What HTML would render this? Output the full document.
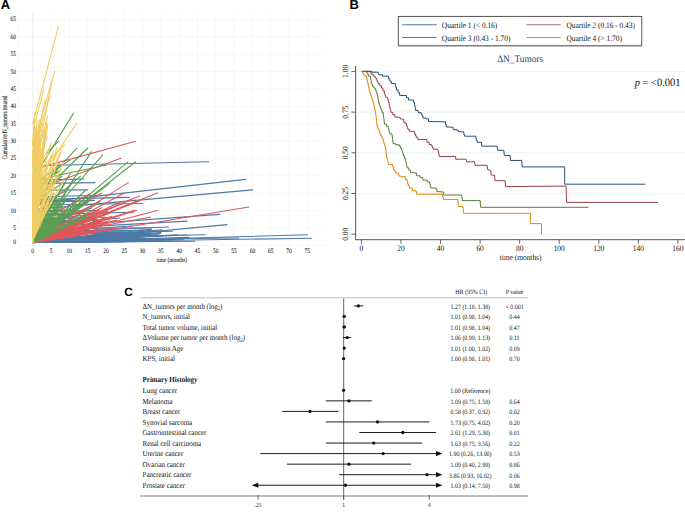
<!DOCTYPE html><html><head><meta charset="utf-8"><style>html,body{margin:0;padding:0;background:#fff;width:685px;height:520px;overflow:hidden}svg{display:block}</style></head><body>
<svg width="685" height="520" viewBox="0 0 685 520" style="font-family:'Liberation Serif',serif" text-rendering="geometricPrecision">
<rect width="685" height="520" fill="#fff"/>
<text x="0.8" y="9.2" font-size="13" font-weight="bold" style="font-family:'Liberation Sans',sans-serif" fill="#000">A</text>
<text x="349.4" y="9.2" font-size="13" font-weight="bold" style="font-family:'Liberation Sans',sans-serif" fill="#000">B</text>
<g>
<line x1="32.70" y1="12" x2="32.70" y2="245.4" stroke="#e9e9e9" stroke-width="0.7"/>
<line x1="51.01" y1="12" x2="51.01" y2="245.4" stroke="#f5f5f5" stroke-width="0.7"/>
<line x1="69.32" y1="12" x2="69.32" y2="245.4" stroke="#f5f5f5" stroke-width="0.7"/>
<line x1="87.63" y1="12" x2="87.63" y2="245.4" stroke="#f5f5f5" stroke-width="0.7"/>
<line x1="105.94" y1="12" x2="105.94" y2="245.4" stroke="#f5f5f5" stroke-width="0.7"/>
<line x1="124.25" y1="12" x2="124.25" y2="245.4" stroke="#f5f5f5" stroke-width="0.7"/>
<line x1="142.56" y1="12" x2="142.56" y2="245.4" stroke="#f5f5f5" stroke-width="0.7"/>
<line x1="160.87" y1="12" x2="160.87" y2="245.4" stroke="#f5f5f5" stroke-width="0.7"/>
<line x1="179.18" y1="12" x2="179.18" y2="245.4" stroke="#f5f5f5" stroke-width="0.7"/>
<line x1="197.49" y1="12" x2="197.49" y2="245.4" stroke="#f5f5f5" stroke-width="0.7"/>
<line x1="215.80" y1="12" x2="215.80" y2="245.4" stroke="#f5f5f5" stroke-width="0.7"/>
<line x1="234.11" y1="12" x2="234.11" y2="245.4" stroke="#f5f5f5" stroke-width="0.7"/>
<line x1="252.42" y1="12" x2="252.42" y2="245.4" stroke="#f5f5f5" stroke-width="0.7"/>
<line x1="270.73" y1="12" x2="270.73" y2="245.4" stroke="#f5f5f5" stroke-width="0.7"/>
<line x1="289.04" y1="12" x2="289.04" y2="245.4" stroke="#f5f5f5" stroke-width="0.7"/>
<line x1="307.35" y1="12" x2="307.35" y2="245.4" stroke="#f5f5f5" stroke-width="0.7"/>
<line x1="18" y1="228.00" x2="325" y2="228.00" stroke="#f5f5f5" stroke-width="0.7"/>
<line x1="18" y1="210.62" x2="325" y2="210.62" stroke="#f5f5f5" stroke-width="0.7"/>
<line x1="18" y1="193.25" x2="325" y2="193.25" stroke="#f5f5f5" stroke-width="0.7"/>
<line x1="18" y1="175.88" x2="325" y2="175.88" stroke="#f5f5f5" stroke-width="0.7"/>
<line x1="18" y1="158.50" x2="325" y2="158.50" stroke="#f5f5f5" stroke-width="0.7"/>
<line x1="18" y1="141.12" x2="325" y2="141.12" stroke="#f5f5f5" stroke-width="0.7"/>
<line x1="18" y1="123.75" x2="325" y2="123.75" stroke="#f5f5f5" stroke-width="0.7"/>
<line x1="18" y1="106.38" x2="325" y2="106.38" stroke="#f5f5f5" stroke-width="0.7"/>
<line x1="18" y1="89.00" x2="325" y2="89.00" stroke="#f5f5f5" stroke-width="0.7"/>
<line x1="18" y1="71.62" x2="325" y2="71.62" stroke="#f5f5f5" stroke-width="0.7"/>
<line x1="18" y1="54.25" x2="325" y2="54.25" stroke="#f5f5f5" stroke-width="0.7"/>
<line x1="18" y1="36.88" x2="325" y2="36.88" stroke="#f5f5f5" stroke-width="0.7"/>
<line x1="18" y1="19.50" x2="325" y2="19.50" stroke="#f5f5f5" stroke-width="0.7"/>
<line x1="18" y1="245.4" x2="325" y2="245.4" stroke="#f5f5f5" stroke-width="0.7"/>
<line x1="18.2" y1="12" x2="18.2" y2="245.4" stroke="#f5f5f5" stroke-width="0.7"/>
<text transform="translate(16,244.20) scale(1,1.22)" text-anchor="end" font-size="5.5" fill="#111" stroke="#111" stroke-width="0.05">0</text>
<text transform="translate(16,229.90) scale(1,1.22)" text-anchor="end" font-size="5.5" fill="#111" stroke="#111" stroke-width="0.05">5</text>
<text transform="translate(16,212.53) scale(1,1.22)" text-anchor="end" font-size="5.5" fill="#111" stroke="#111" stroke-width="0.05">10</text>
<text transform="translate(16,195.15) scale(1,1.22)" text-anchor="end" font-size="5.5" fill="#111" stroke="#111" stroke-width="0.05">15</text>
<text transform="translate(16,177.78) scale(1,1.22)" text-anchor="end" font-size="5.5" fill="#111" stroke="#111" stroke-width="0.05">20</text>
<text transform="translate(16,160.40) scale(1,1.22)" text-anchor="end" font-size="5.5" fill="#111" stroke="#111" stroke-width="0.05">25</text>
<text transform="translate(16,143.03) scale(1,1.22)" text-anchor="end" font-size="5.5" fill="#111" stroke="#111" stroke-width="0.05">30</text>
<text transform="translate(16,125.65) scale(1,1.22)" text-anchor="end" font-size="5.5" fill="#111" stroke="#111" stroke-width="0.05">35</text>
<text transform="translate(16,108.28) scale(1,1.22)" text-anchor="end" font-size="5.5" fill="#111" stroke="#111" stroke-width="0.05">40</text>
<text transform="translate(16,90.90) scale(1,1.22)" text-anchor="end" font-size="5.5" fill="#111" stroke="#111" stroke-width="0.05">45</text>
<text transform="translate(16,73.53) scale(1,1.22)" text-anchor="end" font-size="5.5" fill="#111" stroke="#111" stroke-width="0.05">50</text>
<text transform="translate(16,56.15) scale(1,1.22)" text-anchor="end" font-size="5.5" fill="#111" stroke="#111" stroke-width="0.05">55</text>
<text transform="translate(16,38.77) scale(1,1.22)" text-anchor="end" font-size="5.5" fill="#111" stroke="#111" stroke-width="0.05">60</text>
<text transform="translate(16,21.40) scale(1,1.22)" text-anchor="end" font-size="5.5" fill="#111" stroke="#111" stroke-width="0.05">65</text>
<text transform="translate(32.70,252.8) scale(1,1.22)" text-anchor="middle" font-size="5.5" fill="#111" stroke="#111" stroke-width="0.05">0</text>
<text transform="translate(51.01,252.8) scale(1,1.22)" text-anchor="middle" font-size="5.5" fill="#111" stroke="#111" stroke-width="0.05">5</text>
<text transform="translate(69.32,252.8) scale(1,1.22)" text-anchor="middle" font-size="5.5" fill="#111" stroke="#111" stroke-width="0.05">10</text>
<text transform="translate(87.63,252.8) scale(1,1.22)" text-anchor="middle" font-size="5.5" fill="#111" stroke="#111" stroke-width="0.05">15</text>
<text transform="translate(105.94,252.8) scale(1,1.22)" text-anchor="middle" font-size="5.5" fill="#111" stroke="#111" stroke-width="0.05">20</text>
<text transform="translate(124.25,252.8) scale(1,1.22)" text-anchor="middle" font-size="5.5" fill="#111" stroke="#111" stroke-width="0.05">25</text>
<text transform="translate(142.56,252.8) scale(1,1.22)" text-anchor="middle" font-size="5.5" fill="#111" stroke="#111" stroke-width="0.05">30</text>
<text transform="translate(160.87,252.8) scale(1,1.22)" text-anchor="middle" font-size="5.5" fill="#111" stroke="#111" stroke-width="0.05">35</text>
<text transform="translate(179.18,252.8) scale(1,1.22)" text-anchor="middle" font-size="5.5" fill="#111" stroke="#111" stroke-width="0.05">40</text>
<text transform="translate(197.49,252.8) scale(1,1.22)" text-anchor="middle" font-size="5.5" fill="#111" stroke="#111" stroke-width="0.05">45</text>
<text transform="translate(215.80,252.8) scale(1,1.22)" text-anchor="middle" font-size="5.5" fill="#111" stroke="#111" stroke-width="0.05">50</text>
<text transform="translate(234.11,252.8) scale(1,1.22)" text-anchor="middle" font-size="5.5" fill="#111" stroke="#111" stroke-width="0.05">55</text>
<text transform="translate(252.42,252.8) scale(1,1.22)" text-anchor="middle" font-size="5.5" fill="#111" stroke="#111" stroke-width="0.05">60</text>
<text transform="translate(270.73,252.8) scale(1,1.22)" text-anchor="middle" font-size="5.5" fill="#111" stroke="#111" stroke-width="0.05">65</text>
<text transform="translate(289.04,252.8) scale(1,1.22)" text-anchor="middle" font-size="5.5" fill="#111" stroke="#111" stroke-width="0.05">70</text>
<text transform="translate(307.35,252.8) scale(1,1.22)" text-anchor="middle" font-size="5.5" fill="#111" stroke="#111" stroke-width="0.05">75</text>
<text transform="translate(171.8,262.2) scale(1,1.22)" text-anchor="middle" font-size="5.45" fill="#111" stroke="#111" stroke-width="0.05">time (months)</text>
<text transform="translate(6.5,127.5) rotate(-90) scale(1,1.32)" text-anchor="middle" font-size="5.38" fill="#111" stroke="#111" stroke-width="0.08">Cumulative N_tumors treated</text>
</g>
<g fill="none" stroke-width="1.1" stroke-linecap="round">
<line x1="32.7" y1="242.5" x2="123.2" y2="241.3" stroke="#4E79A7"/>
<line x1="32.7" y1="242.5" x2="146.5" y2="239.6" stroke="#4E79A7"/>
<line x1="32.7" y1="242.5" x2="91.7" y2="240.8" stroke="#4E79A7"/>
<line x1="32.7" y1="242.5" x2="134.3" y2="237.3" stroke="#4E79A7"/>
<line x1="32.7" y1="242.5" x2="156.6" y2="235.3" stroke="#4E79A7"/>
<line x1="32.7" y1="242.5" x2="194.9" y2="241.2" stroke="#4E79A7"/>
<line x1="32.7" y1="242.5" x2="103.5" y2="241.7" stroke="#4E79A7"/>
<line x1="32.7" y1="242.5" x2="107.5" y2="239.7" stroke="#4E79A7"/>
<line x1="32.7" y1="242.5" x2="147.8" y2="241.5" stroke="#4E79A7"/>
<line x1="32.7" y1="242.5" x2="162.4" y2="238.7" stroke="#4E79A7"/>
<line x1="32.7" y1="242.5" x2="137.4" y2="240.2" stroke="#4E79A7"/>
<line x1="32.7" y1="242.5" x2="114.4" y2="239.4" stroke="#4E79A7"/>
<line x1="32.7" y1="242.5" x2="167.8" y2="239.6" stroke="#4E79A7"/>
<line x1="32.7" y1="242.5" x2="133.6" y2="237.7" stroke="#4E79A7"/>
<line x1="32.7" y1="242.5" x2="91.9" y2="240.0" stroke="#4E79A7"/>
<line x1="32.7" y1="242.5" x2="183.8" y2="239.1" stroke="#4E79A7"/>
<line x1="32.7" y1="242.5" x2="151.3" y2="238.9" stroke="#4E79A7"/>
<line x1="32.7" y1="242.5" x2="139.7" y2="238.0" stroke="#4E79A7"/>
<line x1="32.7" y1="242.5" x2="158.7" y2="234.8" stroke="#4E79A7"/>
<line x1="32.7" y1="242.5" x2="130.0" y2="238.4" stroke="#4E79A7"/>
<line x1="32.7" y1="242.5" x2="106.1" y2="241.6" stroke="#4E79A7"/>
<line x1="32.7" y1="242.5" x2="101.8" y2="241.2" stroke="#4E79A7"/>
<line x1="32.7" y1="242.5" x2="96.5" y2="240.6" stroke="#4E79A7"/>
<line x1="32.7" y1="242.5" x2="177.6" y2="234.7" stroke="#4E79A7"/>
<line x1="32.7" y1="242.5" x2="127.0" y2="237.3" stroke="#4E79A7"/>
<line x1="32.7" y1="242.5" x2="107.0" y2="241.1" stroke="#4E79A7"/>
<line x1="32.7" y1="242.5" x2="152.4" y2="240.1" stroke="#4E79A7"/>
<line x1="32.7" y1="242.5" x2="128.2" y2="239.0" stroke="#4E79A7"/>
<line x1="32.7" y1="242.5" x2="144.3" y2="238.1" stroke="#4E79A7"/>
<line x1="32.7" y1="242.5" x2="186.5" y2="235.0" stroke="#4E79A7"/>
<line x1="32.7" y1="242.5" x2="130.7" y2="239.8" stroke="#4E79A7"/>
<line x1="32.7" y1="242.5" x2="94.5" y2="241.9" stroke="#4E79A7"/>
<line x1="32.7" y1="242.5" x2="125.0" y2="241.7" stroke="#4E79A7"/>
<line x1="32.7" y1="242.5" x2="98.8" y2="240.8" stroke="#4E79A7"/>
<line x1="32.7" y1="242.5" x2="155.1" y2="240.8" stroke="#4E79A7"/>
<line x1="32.7" y1="242.5" x2="108.6" y2="239.0" stroke="#4E79A7"/>
<line x1="32.7" y1="242.5" x2="117.6" y2="235.6" stroke="#4E79A7"/>
<line x1="32.7" y1="242.5" x2="106.8" y2="238.0" stroke="#4E79A7"/>
<line x1="32.7" y1="242.5" x2="78.7" y2="236.7" stroke="#4E79A7"/>
<line x1="32.7" y1="242.5" x2="124.4" y2="239.1" stroke="#4E79A7"/>
<line x1="32.7" y1="242.5" x2="152.5" y2="230.3" stroke="#4E79A7"/>
<line x1="32.7" y1="242.5" x2="91.3" y2="236.1" stroke="#4E79A7"/>
<line x1="32.7" y1="242.5" x2="105.6" y2="238.4" stroke="#4E79A7"/>
<line x1="32.7" y1="242.5" x2="151.6" y2="229.1" stroke="#4E79A7"/>
<line x1="32.7" y1="242.5" x2="96.6" y2="237.1" stroke="#4E79A7"/>
<line x1="32.7" y1="242.5" x2="79.1" y2="239.6" stroke="#4E79A7"/>
<line x1="32.7" y1="242.5" x2="160.7" y2="232.5" stroke="#4E79A7"/>
<line x1="32.7" y1="242.5" x2="160.6" y2="233.5" stroke="#4E79A7"/>
<line x1="32.7" y1="242.5" x2="93.9" y2="239.2" stroke="#4E79A7"/>
<line x1="32.7" y1="242.5" x2="150.5" y2="232.9" stroke="#4E79A7"/>
<line x1="32.7" y1="242.5" x2="84.1" y2="237.4" stroke="#4E79A7"/>
<line x1="32.7" y1="242.5" x2="142.6" y2="233.6" stroke="#4E79A7"/>
<line x1="32.7" y1="242.5" x2="105.9" y2="234.3" stroke="#4E79A7"/>
<line x1="32.7" y1="242.5" x2="111.9" y2="232.5" stroke="#4E79A7"/>
<line x1="32.7" y1="242.5" x2="87.8" y2="239.8" stroke="#4E79A7"/>
<line x1="32.7" y1="242.5" x2="89.5" y2="236.0" stroke="#4E79A7"/>
<line x1="32.7" y1="242.5" x2="107.4" y2="235.9" stroke="#4E79A7"/>
<line x1="32.7" y1="242.5" x2="162.0" y2="229.9" stroke="#4E79A7"/>
<line x1="32.7" y1="242.5" x2="114.8" y2="232.7" stroke="#4E79A7"/>
<line x1="32.7" y1="242.5" x2="98.8" y2="238.3" stroke="#4E79A7"/>
<line x1="32.7" y1="242.5" x2="99.4" y2="237.5" stroke="#4E79A7"/>
<line x1="32.7" y1="242.5" x2="107.7" y2="236.6" stroke="#4E79A7"/>
<line x1="32.7" y1="242.5" x2="113.6" y2="232.5" stroke="#4E79A7"/>
<line x1="32.7" y1="242.5" x2="122.7" y2="239.2" stroke="#4E79A7"/>
<line x1="32.7" y1="242.5" x2="77.0" y2="237.5" stroke="#4E79A7"/>
<line x1="32.7" y1="242.5" x2="140.4" y2="233.0" stroke="#4E79A7"/>
<line x1="32.7" y1="242.5" x2="125.5" y2="232.2" stroke="#4E79A7"/>
<line x1="32.7" y1="242.5" x2="98.5" y2="238.4" stroke="#4E79A7"/>
<line x1="32.7" y1="242.5" x2="126.0" y2="232.4" stroke="#4E79A7"/>
<line x1="32.7" y1="235.0" x2="143.7" y2="232.6" stroke="#4E79A7"/>
<line x1="32.7" y1="232.9" x2="129.0" y2="230.6" stroke="#4E79A7"/>
<line x1="32.7" y1="238.8" x2="151.6" y2="234.2" stroke="#4E79A7"/>
<line x1="32.7" y1="239.9" x2="138.9" y2="235.5" stroke="#4E79A7"/>
<line x1="32.7" y1="239.0" x2="98.8" y2="237.7" stroke="#4E79A7"/>
<line x1="32.7" y1="233.2" x2="94.3" y2="231.4" stroke="#4E79A7"/>
<line x1="32.7" y1="239.8" x2="101.8" y2="237.6" stroke="#4E79A7"/>
<line x1="32.7" y1="232.8" x2="168.5" y2="227.0" stroke="#4E79A7"/>
<line x1="32.7" y1="233.8" x2="124.1" y2="231.9" stroke="#4E79A7"/>
<line x1="32.7" y1="238.1" x2="102.4" y2="236.8" stroke="#4E79A7"/>
<line x1="32.7" y1="240.9" x2="105.6" y2="239.9" stroke="#4E79A7"/>
<line x1="32.7" y1="238.2" x2="138.4" y2="236.1" stroke="#4E79A7"/>
<line x1="32.7" y1="232.5" x2="144.8" y2="230.0" stroke="#4E79A7"/>
<line x1="32.7" y1="238.7" x2="159.8" y2="233.3" stroke="#4E79A7"/>
<line x1="32.7" y1="242.5" x2="146.9" y2="239.2" stroke="#4E79A7"/>
<line x1="32.7" y1="242.5" x2="188.9" y2="237.4" stroke="#4E79A7"/>
<line x1="32.7" y1="242.5" x2="159.0" y2="238.4" stroke="#4E79A7"/>
<line x1="32.7" y1="242.5" x2="152.4" y2="241.3" stroke="#4E79A7"/>
<line x1="32.7" y1="242.5" x2="150.5" y2="238.6" stroke="#4E79A7"/>
<line x1="32.7" y1="242.5" x2="151.8" y2="238.8" stroke="#4E79A7"/>
<line x1="32.7" y1="180.0" x2="84.2" y2="179.0" stroke="#4E79A7"/>
<line x1="32.7" y1="218.2" x2="70.6" y2="218.0" stroke="#4E79A7"/>
<line x1="32.7" y1="220.3" x2="59.0" y2="220.0" stroke="#4E79A7"/>
<line x1="32.7" y1="215.4" x2="73.9" y2="214.7" stroke="#4E79A7"/>
<line x1="32.7" y1="230.1" x2="87.6" y2="229.5" stroke="#4E79A7"/>
<line x1="32.7" y1="200.8" x2="69.4" y2="200.8" stroke="#4E79A7"/>
<line x1="32.7" y1="225.6" x2="64.9" y2="224.8" stroke="#4E79A7"/>
<line x1="32.7" y1="199.6" x2="129.3" y2="197.4" stroke="#4E79A7"/>
<line x1="32.7" y1="197.0" x2="98.1" y2="195.3" stroke="#4E79A7"/>
<line x1="32.7" y1="203.0" x2="94.4" y2="200.4" stroke="#4E79A7"/>
<line x1="32.7" y1="211.8" x2="99.0" y2="210.6" stroke="#4E79A7"/>
<line x1="32.7" y1="211.3" x2="74.5" y2="209.6" stroke="#4E79A7"/>
<line x1="32.7" y1="202.4" x2="75.5" y2="200.6" stroke="#4E79A7"/>
<line x1="32.7" y1="221.6" x2="82.6" y2="221.1" stroke="#4E79A7"/>
<line x1="32.7" y1="214.6" x2="73.5" y2="213.8" stroke="#4E79A7"/>
<line x1="32.7" y1="214.6" x2="133.2" y2="212.2" stroke="#4E79A7"/>
<line x1="32.7" y1="222.7" x2="84.7" y2="221.9" stroke="#4E79A7"/>
<line x1="32.7" y1="221.0" x2="96.8" y2="219.6" stroke="#4E79A7"/>
<line x1="32.7" y1="222.4" x2="62.4" y2="222.1" stroke="#4E79A7"/>
<line x1="32.7" y1="224.8" x2="65.0" y2="224.7" stroke="#4E79A7"/>
<line x1="32.7" y1="218.9" x2="104.9" y2="217.2" stroke="#4E79A7"/>
<line x1="32.4" y1="165.7" x2="208.8" y2="161.8" stroke="#4E79A7"/>
<line x1="32.7" y1="183.6" x2="95.0" y2="182.6" stroke="#4E79A7"/>
<line x1="32.7" y1="190.2" x2="87.7" y2="189.9" stroke="#4E79A7"/>
<line x1="32.7" y1="203.4" x2="245.6" y2="179.4" stroke="#4E79A7"/>
<line x1="32.7" y1="209.6" x2="252.6" y2="189.9" stroke="#4E79A7"/>
<line x1="32.7" y1="228.0" x2="219.7" y2="214.4" stroke="#4E79A7"/>
<line x1="32.7" y1="229.6" x2="187.0" y2="221.1" stroke="#4E79A7"/>
<line x1="32.7" y1="243.0" x2="227.0" y2="224.6" stroke="#4E79A7"/>
<line x1="32.7" y1="238.0" x2="205.2" y2="234.7" stroke="#4E79A7"/>
<line x1="32.7" y1="242.5" x2="307.5" y2="234.8" stroke="#4E79A7"/>
<line x1="32.7" y1="242.5" x2="311.8" y2="238.2" stroke="#4E79A7"/>
<line x1="32.7" y1="205.0" x2="142.6" y2="203.5" stroke="#4E79A7"/>
<line x1="32.7" y1="229.0" x2="150.5" y2="227.7" stroke="#4E79A7"/>
<line x1="32.7" y1="235.0" x2="172.4" y2="231.2" stroke="#4E79A7"/>
<line x1="32.7" y1="240.0" x2="238.8" y2="238.0" stroke="#4E79A7"/>
<line x1="32.7" y1="221.0" x2="95.0" y2="214.0" stroke="#4E79A7"/>
<line x1="32.7" y1="226.0" x2="120.0" y2="218.0" stroke="#4E79A7"/>
<line x1="32.7" y1="232.0" x2="132.0" y2="226.0" stroke="#4E79A7"/>
<line x1="32.7" y1="242.5" x2="98.7" y2="221.5" stroke="#E15759"/>
<line x1="32.7" y1="242.5" x2="112.5" y2="228.9" stroke="#E15759"/>
<line x1="32.7" y1="242.5" x2="64.2" y2="232.7" stroke="#E15759"/>
<line x1="32.7" y1="242.5" x2="99.6" y2="222.1" stroke="#E15759"/>
<line x1="32.7" y1="242.5" x2="87.9" y2="225.4" stroke="#E15759"/>
<line x1="32.7" y1="242.5" x2="91.9" y2="223.5" stroke="#E15759"/>
<line x1="32.7" y1="242.5" x2="73.8" y2="236.5" stroke="#E15759"/>
<line x1="32.7" y1="242.5" x2="67.4" y2="231.8" stroke="#E15759"/>
<line x1="32.7" y1="242.5" x2="94.1" y2="225.5" stroke="#E15759"/>
<line x1="32.7" y1="242.5" x2="102.9" y2="222.1" stroke="#E15759"/>
<line x1="32.7" y1="242.5" x2="95.8" y2="232.8" stroke="#E15759"/>
<line x1="32.7" y1="242.5" x2="65.8" y2="236.1" stroke="#E15759"/>
<line x1="32.7" y1="242.5" x2="99.9" y2="219.7" stroke="#E15759"/>
<line x1="32.7" y1="242.5" x2="86.6" y2="227.5" stroke="#E15759"/>
<line x1="32.7" y1="242.5" x2="94.9" y2="232.8" stroke="#E15759"/>
<line x1="32.7" y1="242.5" x2="100.1" y2="229.0" stroke="#E15759"/>
<line x1="32.7" y1="242.5" x2="65.1" y2="236.2" stroke="#E15759"/>
<line x1="32.7" y1="242.5" x2="96.6" y2="229.8" stroke="#E15759"/>
<line x1="32.7" y1="242.5" x2="85.9" y2="233.8" stroke="#E15759"/>
<line x1="32.7" y1="242.5" x2="112.1" y2="216.2" stroke="#E15759"/>
<line x1="32.7" y1="242.5" x2="104.0" y2="218.4" stroke="#E15759"/>
<line x1="32.7" y1="242.5" x2="72.8" y2="229.2" stroke="#E15759"/>
<line x1="32.7" y1="242.5" x2="69.3" y2="233.5" stroke="#E15759"/>
<line x1="32.7" y1="242.5" x2="104.0" y2="225.2" stroke="#E15759"/>
<line x1="32.7" y1="242.5" x2="73.9" y2="229.2" stroke="#E15759"/>
<line x1="32.7" y1="242.5" x2="62.2" y2="235.5" stroke="#E15759"/>
<line x1="32.7" y1="242.5" x2="69.2" y2="234.9" stroke="#E15759"/>
<line x1="32.7" y1="242.5" x2="62.1" y2="233.9" stroke="#E15759"/>
<line x1="32.7" y1="242.5" x2="109.5" y2="220.7" stroke="#E15759"/>
<line x1="32.7" y1="242.5" x2="81.1" y2="231.9" stroke="#E15759"/>
<line x1="32.7" y1="242.5" x2="80.5" y2="231.7" stroke="#E15759"/>
<line x1="32.7" y1="242.5" x2="67.2" y2="231.8" stroke="#E15759"/>
<line x1="32.7" y1="242.5" x2="74.8" y2="234.4" stroke="#E15759"/>
<line x1="32.7" y1="242.5" x2="81.1" y2="226.3" stroke="#E15759"/>
<line x1="32.7" y1="242.5" x2="101.7" y2="207.8" stroke="#E15759"/>
<line x1="32.7" y1="242.5" x2="106.2" y2="224.5" stroke="#E15759"/>
<line x1="32.7" y1="242.5" x2="107.9" y2="211.1" stroke="#E15759"/>
<line x1="32.7" y1="242.5" x2="116.8" y2="220.1" stroke="#E15759"/>
<line x1="32.7" y1="242.5" x2="84.6" y2="219.3" stroke="#E15759"/>
<line x1="32.7" y1="242.5" x2="103.0" y2="220.3" stroke="#E15759"/>
<line x1="32.7" y1="242.5" x2="77.9" y2="230.0" stroke="#E15759"/>
<line x1="32.7" y1="242.5" x2="94.8" y2="224.3" stroke="#E15759"/>
<line x1="32.7" y1="242.5" x2="92.4" y2="226.4" stroke="#E15759"/>
<line x1="32.7" y1="242.5" x2="86.9" y2="228.6" stroke="#E15759"/>
<line x1="32.7" y1="242.5" x2="98.5" y2="210.0" stroke="#E15759"/>
<line x1="32.7" y1="242.5" x2="90.5" y2="220.5" stroke="#E15759"/>
<line x1="32.7" y1="242.5" x2="72.5" y2="230.2" stroke="#E15759"/>
<line x1="32.7" y1="242.5" x2="95.1" y2="216.7" stroke="#E15759"/>
<line x1="32.7" y1="242.5" x2="94.5" y2="227.1" stroke="#E15759"/>
<line x1="32.7" y1="242.5" x2="139.5" y2="195.9" stroke="#E15759"/>
<line x1="32.7" y1="242.5" x2="78.8" y2="224.5" stroke="#E15759"/>
<line x1="32.7" y1="242.5" x2="115.3" y2="227.9" stroke="#E15759"/>
<line x1="32.7" y1="242.5" x2="131.1" y2="199.3" stroke="#E15759"/>
<line x1="32.7" y1="242.5" x2="83.8" y2="231.2" stroke="#E15759"/>
<line x1="32.7" y1="242.5" x2="138.7" y2="200.6" stroke="#E15759"/>
<line x1="32.7" y1="242.5" x2="106.8" y2="217.2" stroke="#E15759"/>
<line x1="32.7" y1="242.5" x2="92.0" y2="215.2" stroke="#E15759"/>
<line x1="32.7" y1="242.5" x2="85.1" y2="229.4" stroke="#E15759"/>
<line x1="32.7" y1="242.5" x2="84.0" y2="232.4" stroke="#E15759"/>
<line x1="32.7" y1="242.5" x2="102.2" y2="225.7" stroke="#E15759"/>
<line x1="32.7" y1="242.5" x2="96.5" y2="222.5" stroke="#E15759"/>
<line x1="32.7" y1="242.5" x2="134.9" y2="210.1" stroke="#E15759"/>
<line x1="32.7" y1="242.5" x2="140.0" y2="200.7" stroke="#E15759"/>
<line x1="32.7" y1="242.5" x2="109.5" y2="213.3" stroke="#E15759"/>
<line x1="32.7" y1="242.5" x2="120.6" y2="201.9" stroke="#E15759"/>
<line x1="32.7" y1="242.5" x2="98.9" y2="222.6" stroke="#E15759"/>
<line x1="38.2" y1="230.7" x2="100.3" y2="201.4" stroke="#E15759"/>
<line x1="41.7" y1="230.0" x2="113.3" y2="207.3" stroke="#E15759"/>
<line x1="35.9" y1="205.3" x2="66.4" y2="190.7" stroke="#E15759"/>
<line x1="35.2" y1="223.9" x2="80.7" y2="211.4" stroke="#E15759"/>
<line x1="34.3" y1="224.8" x2="89.2" y2="194.2" stroke="#E15759"/>
<line x1="34.3" y1="235.2" x2="64.3" y2="218.2" stroke="#E15759"/>
<line x1="42.6" y1="207.7" x2="64.2" y2="200.2" stroke="#E15759"/>
<line x1="42.9" y1="227.0" x2="101.5" y2="193.2" stroke="#E15759"/>
<line x1="40.9" y1="235.8" x2="69.4" y2="220.1" stroke="#E15759"/>
<line x1="36.8" y1="226.9" x2="91.6" y2="208.2" stroke="#E15759"/>
<line x1="40.3" y1="167.4" x2="135.6" y2="141.2" stroke="#E15759"/>
<line x1="45.5" y1="186.0" x2="120.9" y2="158.2" stroke="#E15759"/>
<line x1="32.7" y1="242.5" x2="128.3" y2="182.6" stroke="#E15759"/>
<line x1="32.7" y1="242.5" x2="124.4" y2="193.0" stroke="#E15759"/>
<line x1="32.7" y1="242.5" x2="157.5" y2="193.0" stroke="#E15759"/>
<line x1="32.7" y1="242.5" x2="249.0" y2="207.0" stroke="#E15759"/>
<line x1="32.7" y1="242.5" x2="157.5" y2="210.5" stroke="#E15759"/>
<line x1="32.7" y1="238.0" x2="150.5" y2="217.2" stroke="#E15759"/>
<line x1="32.7" y1="242.5" x2="136.6" y2="210.5" stroke="#E15759"/>
<line x1="32.7" y1="242.5" x2="51.7" y2="234.8" stroke="#59A14F"/>
<line x1="32.7" y1="242.5" x2="89.2" y2="216.4" stroke="#59A14F"/>
<line x1="32.7" y1="242.5" x2="60.7" y2="218.3" stroke="#59A14F"/>
<line x1="32.7" y1="242.5" x2="46.0" y2="233.9" stroke="#59A14F"/>
<line x1="32.7" y1="242.5" x2="52.9" y2="230.7" stroke="#59A14F"/>
<line x1="32.7" y1="242.5" x2="63.2" y2="216.3" stroke="#59A14F"/>
<line x1="32.7" y1="242.5" x2="45.3" y2="237.0" stroke="#59A14F"/>
<line x1="32.7" y1="242.5" x2="79.3" y2="199.6" stroke="#59A14F"/>
<line x1="32.7" y1="242.5" x2="89.3" y2="201.1" stroke="#59A14F"/>
<line x1="32.7" y1="242.5" x2="58.8" y2="228.4" stroke="#59A14F"/>
<line x1="32.7" y1="242.5" x2="87.3" y2="202.0" stroke="#59A14F"/>
<line x1="32.7" y1="242.5" x2="54.8" y2="228.2" stroke="#59A14F"/>
<line x1="32.7" y1="242.5" x2="62.1" y2="227.0" stroke="#59A14F"/>
<line x1="32.7" y1="242.5" x2="87.9" y2="215.3" stroke="#59A14F"/>
<line x1="32.7" y1="242.5" x2="82.9" y2="200.8" stroke="#59A14F"/>
<line x1="32.7" y1="242.5" x2="58.9" y2="227.2" stroke="#59A14F"/>
<line x1="32.7" y1="242.5" x2="53.1" y2="225.8" stroke="#59A14F"/>
<line x1="32.7" y1="242.5" x2="45.3" y2="233.8" stroke="#59A14F"/>
<line x1="32.7" y1="242.5" x2="85.7" y2="190.0" stroke="#59A14F"/>
<line x1="32.7" y1="242.5" x2="48.3" y2="232.2" stroke="#59A14F"/>
<line x1="32.7" y1="242.5" x2="46.0" y2="227.1" stroke="#59A14F"/>
<line x1="32.7" y1="242.5" x2="59.2" y2="199.0" stroke="#59A14F"/>
<line x1="32.7" y1="242.5" x2="61.6" y2="212.1" stroke="#59A14F"/>
<line x1="32.7" y1="242.5" x2="58.9" y2="216.8" stroke="#59A14F"/>
<line x1="32.7" y1="242.5" x2="44.0" y2="223.4" stroke="#59A14F"/>
<line x1="32.7" y1="242.5" x2="50.2" y2="209.9" stroke="#59A14F"/>
<line x1="32.7" y1="242.5" x2="60.7" y2="203.4" stroke="#59A14F"/>
<line x1="32.7" y1="242.5" x2="52.2" y2="211.3" stroke="#59A14F"/>
<line x1="32.7" y1="242.5" x2="41.1" y2="233.7" stroke="#59A14F"/>
<line x1="32.7" y1="242.5" x2="65.0" y2="199.9" stroke="#59A14F"/>
<line x1="32.7" y1="242.5" x2="62.2" y2="207.5" stroke="#59A14F"/>
<line x1="32.7" y1="242.5" x2="64.3" y2="213.7" stroke="#59A14F"/>
<line x1="32.7" y1="242.5" x2="45.6" y2="228.1" stroke="#59A14F"/>
<line x1="32.7" y1="242.5" x2="46.6" y2="224.0" stroke="#59A14F"/>
<line x1="32.7" y1="242.5" x2="40.3" y2="234.3" stroke="#59A14F"/>
<line x1="32.7" y1="242.5" x2="48.0" y2="227.5" stroke="#59A14F"/>
<line x1="41.0" y1="206.3" x2="50.0" y2="200.8" stroke="#59A14F"/>
<line x1="37.2" y1="198.7" x2="60.9" y2="184.5" stroke="#59A14F"/>
<line x1="39.6" y1="185.3" x2="57.4" y2="171.8" stroke="#59A14F"/>
<line x1="40.4" y1="213.2" x2="55.7" y2="197.3" stroke="#59A14F"/>
<line x1="40.5" y1="224.7" x2="70.0" y2="173.8" stroke="#59A14F"/>
<line x1="34.6" y1="188.0" x2="60.6" y2="170.1" stroke="#59A14F"/>
<line x1="41.2" y1="188.9" x2="59.4" y2="163.7" stroke="#59A14F"/>
<line x1="34.8" y1="206.2" x2="53.9" y2="193.7" stroke="#59A14F"/>
<line x1="36.0" y1="202.5" x2="59.7" y2="165.8" stroke="#59A14F"/>
<line x1="36.9" y1="220.2" x2="53.8" y2="203.8" stroke="#59A14F"/>
<line x1="36.3" y1="209.4" x2="57.0" y2="176.8" stroke="#59A14F"/>
<line x1="37.8" y1="228.3" x2="65.7" y2="181.9" stroke="#59A14F"/>
<line x1="42.5" y1="231.5" x2="74.0" y2="178.6" stroke="#59A14F"/>
<line x1="49.4" y1="202.6" x2="80.5" y2="176.2" stroke="#59A14F"/>
<line x1="47.5" y1="223.4" x2="75.9" y2="204.8" stroke="#59A14F"/>
<line x1="48.2" y1="225.4" x2="65.9" y2="200.1" stroke="#59A14F"/>
<line x1="43.1" y1="215.0" x2="56.0" y2="203.8" stroke="#59A14F"/>
<line x1="46.5" y1="188.2" x2="57.0" y2="180.6" stroke="#59A14F"/>
<line x1="41.1" y1="165.7" x2="73.6" y2="113.1" stroke="#59A14F"/>
<line x1="38.0" y1="190.0" x2="76.8" y2="148.2" stroke="#59A14F"/>
<line x1="50.0" y1="185.0" x2="87.7" y2="148.0" stroke="#59A14F"/>
<line x1="32.7" y1="242.5" x2="91.4" y2="151.6" stroke="#59A14F"/>
<line x1="40.0" y1="225.0" x2="102.6" y2="155.1" stroke="#59A14F"/>
<line x1="32.7" y1="242.5" x2="127.9" y2="161.8" stroke="#59A14F"/>
<line x1="32.7" y1="242.5" x2="135.5" y2="161.8" stroke="#59A14F"/>
<line x1="32.7" y1="242.5" x2="109.5" y2="183.4" stroke="#59A14F"/>
<line x1="32.7" y1="242.5" x2="99.0" y2="202.7" stroke="#59A14F"/>
<line x1="32.7" y1="242.5" x2="87.6" y2="214.0" stroke="#59A14F"/>
<line x1="47.3" y1="152.6" x2="58.7" y2="141.2" stroke="#59A14F"/>
<line x1="34.0" y1="200.0" x2="62.0" y2="176.0" stroke="#59A14F"/>
<line x1="36.0" y1="182.0" x2="70.0" y2="160.0" stroke="#59A14F"/>
<line x1="41.0" y1="179.0" x2="106.4" y2="165.0" stroke="#59A14F"/>
<line x1="32.7" y1="242.4" x2="36.4" y2="178.5" stroke="#EFCD62"/>
<line x1="32.7" y1="240.6" x2="39.3" y2="179.9" stroke="#EFCD62"/>
<line x1="32.7" y1="240.5" x2="39.2" y2="166.2" stroke="#EFCD62"/>
<line x1="32.7" y1="241.0" x2="35.3" y2="186.6" stroke="#EFCD62"/>
<line x1="32.7" y1="241.7" x2="37.9" y2="141.1" stroke="#EFCD62"/>
<line x1="32.7" y1="241.9" x2="34.0" y2="202.0" stroke="#EFCD62"/>
<line x1="32.7" y1="241.0" x2="37.8" y2="194.6" stroke="#EFCD62"/>
<line x1="32.7" y1="242.4" x2="40.0" y2="140.7" stroke="#EFCD62"/>
<line x1="32.7" y1="239.8" x2="39.2" y2="182.7" stroke="#EFCD62"/>
<line x1="32.7" y1="241.2" x2="39.5" y2="182.9" stroke="#EFCD62"/>
<line x1="32.7" y1="239.0" x2="37.5" y2="194.6" stroke="#EFCD62"/>
<line x1="32.7" y1="239.1" x2="35.7" y2="138.8" stroke="#EFCD62"/>
<line x1="32.7" y1="241.9" x2="33.6" y2="172.9" stroke="#EFCD62"/>
<line x1="32.7" y1="241.3" x2="33.8" y2="175.9" stroke="#EFCD62"/>
<line x1="32.7" y1="241.5" x2="41.3" y2="158.8" stroke="#EFCD62"/>
<line x1="32.7" y1="239.3" x2="39.1" y2="178.7" stroke="#EFCD62"/>
<line x1="32.7" y1="241.4" x2="40.6" y2="156.0" stroke="#EFCD62"/>
<line x1="32.7" y1="239.2" x2="40.0" y2="167.6" stroke="#EFCD62"/>
<line x1="32.7" y1="239.8" x2="34.8" y2="136.4" stroke="#EFCD62"/>
<line x1="32.7" y1="241.2" x2="39.9" y2="124.8" stroke="#EFCD62"/>
<line x1="32.7" y1="239.4" x2="39.2" y2="130.6" stroke="#EFCD62"/>
<line x1="32.7" y1="241.1" x2="33.8" y2="127.3" stroke="#EFCD62"/>
<line x1="32.7" y1="240.5" x2="41.2" y2="148.0" stroke="#EFCD62"/>
<line x1="32.7" y1="241.9" x2="37.0" y2="120.5" stroke="#EFCD62"/>
<line x1="32.7" y1="241.6" x2="40.1" y2="178.3" stroke="#EFCD62"/>
<line x1="32.7" y1="240.2" x2="33.3" y2="178.6" stroke="#EFCD62"/>
<line x1="32.7" y1="242.0" x2="47.2" y2="123.7" stroke="#EFCD62"/>
<line x1="32.7" y1="239.4" x2="39.3" y2="149.6" stroke="#EFCD62"/>
<line x1="32.7" y1="242.4" x2="37.8" y2="189.3" stroke="#EFCD62"/>
<line x1="32.7" y1="241.3" x2="42.3" y2="123.7" stroke="#EFCD62"/>
<line x1="32.7" y1="241.8" x2="35.2" y2="197.6" stroke="#EFCD62"/>
<line x1="32.7" y1="239.2" x2="40.4" y2="127.3" stroke="#EFCD62"/>
<line x1="32.7" y1="240.3" x2="44.6" y2="127.7" stroke="#EFCD62"/>
<line x1="32.7" y1="241.6" x2="34.4" y2="191.8" stroke="#EFCD62"/>
<line x1="32.7" y1="241.3" x2="36.0" y2="173.2" stroke="#EFCD62"/>
<line x1="32.7" y1="239.9" x2="37.5" y2="172.9" stroke="#EFCD62"/>
<line x1="32.7" y1="240.7" x2="34.9" y2="126.7" stroke="#EFCD62"/>
<line x1="32.7" y1="239.8" x2="38.0" y2="183.9" stroke="#EFCD62"/>
<line x1="32.7" y1="242.0" x2="38.4" y2="145.8" stroke="#EFCD62"/>
<line x1="32.7" y1="240.3" x2="39.1" y2="119.8" stroke="#EFCD62"/>
<line x1="32.7" y1="241.5" x2="42.9" y2="142.6" stroke="#EFCD62"/>
<line x1="32.7" y1="240.0" x2="34.6" y2="150.0" stroke="#EFCD62"/>
<line x1="32.7" y1="240.9" x2="33.7" y2="201.9" stroke="#EFCD62"/>
<line x1="32.7" y1="242.1" x2="36.3" y2="192.1" stroke="#EFCD62"/>
<line x1="32.7" y1="239.9" x2="46.8" y2="120.7" stroke="#EFCD62"/>
<line x1="32.7" y1="167.8" x2="34.9" y2="134.7" stroke="#EFCD62"/>
<line x1="32.7" y1="223.3" x2="42.3" y2="157.4" stroke="#EFCD62"/>
<line x1="32.7" y1="213.2" x2="45.4" y2="129.8" stroke="#EFCD62"/>
<line x1="32.7" y1="187.1" x2="34.7" y2="133.4" stroke="#EFCD62"/>
<line x1="32.7" y1="186.8" x2="35.5" y2="142.6" stroke="#EFCD62"/>
<line x1="32.7" y1="146.2" x2="34.6" y2="113.0" stroke="#EFCD62"/>
<line x1="32.7" y1="186.5" x2="39.5" y2="139.9" stroke="#EFCD62"/>
<line x1="32.7" y1="160.3" x2="34.4" y2="139.9" stroke="#EFCD62"/>
<line x1="32.7" y1="199.3" x2="34.7" y2="167.8" stroke="#EFCD62"/>
<line x1="32.7" y1="223.7" x2="40.8" y2="156.4" stroke="#EFCD62"/>
<line x1="32.7" y1="207.7" x2="46.1" y2="130.0" stroke="#EFCD62"/>
<line x1="32.7" y1="151.6" x2="35.3" y2="127.1" stroke="#EFCD62"/>
<line x1="32.7" y1="163.3" x2="34.7" y2="145.1" stroke="#EFCD62"/>
<line x1="32.7" y1="202.0" x2="38.8" y2="130.0" stroke="#EFCD62"/>
<line x1="32.7" y1="164.4" x2="34.6" y2="130.7" stroke="#EFCD62"/>
<line x1="32.7" y1="179.1" x2="37.1" y2="140.8" stroke="#EFCD62"/>
<line x1="32.7" y1="210.0" x2="37.7" y2="164.3" stroke="#EFCD62"/>
<line x1="32.7" y1="155.3" x2="36.7" y2="125.4" stroke="#EFCD62"/>
<line x1="32.7" y1="202.0" x2="38.1" y2="167.2" stroke="#EFCD62"/>
<line x1="32.7" y1="214.4" x2="42.1" y2="153.0" stroke="#EFCD62"/>
<line x1="32.7" y1="144.5" x2="34.1" y2="125.2" stroke="#EFCD62"/>
<line x1="32.7" y1="159.7" x2="34.8" y2="142.6" stroke="#EFCD62"/>
<line x1="32.7" y1="173.8" x2="37.3" y2="133.2" stroke="#EFCD62"/>
<line x1="32.7" y1="228.3" x2="37.5" y2="195.4" stroke="#EFCD62"/>
<line x1="32.7" y1="202.1" x2="42.5" y2="180.5" stroke="#EFCD62"/>
<line x1="32.7" y1="224.3" x2="42.2" y2="188.2" stroke="#EFCD62"/>
<line x1="32.7" y1="222.8" x2="49.9" y2="191.2" stroke="#EFCD62"/>
<line x1="32.7" y1="204.9" x2="53.5" y2="150.6" stroke="#EFCD62"/>
<line x1="32.7" y1="225.0" x2="48.6" y2="193.1" stroke="#EFCD62"/>
<line x1="32.7" y1="231.7" x2="52.7" y2="177.3" stroke="#EFCD62"/>
<line x1="32.7" y1="217.4" x2="51.6" y2="154.2" stroke="#EFCD62"/>
<line x1="32.7" y1="177.5" x2="47.4" y2="136.4" stroke="#EFCD62"/>
<line x1="32.7" y1="201.1" x2="42.3" y2="164.3" stroke="#EFCD62"/>
<line x1="32.7" y1="237.9" x2="47.6" y2="200.2" stroke="#EFCD62"/>
<line x1="32.7" y1="235.6" x2="61.5" y2="149.9" stroke="#EFCD62"/>
<line x1="32.7" y1="206.6" x2="50.8" y2="143.4" stroke="#EFCD62"/>
<line x1="32.7" y1="228.2" x2="47.4" y2="171.8" stroke="#EFCD62"/>
<line x1="32.7" y1="233.2" x2="44.2" y2="201.1" stroke="#EFCD62"/>
<line x1="32.7" y1="224.7" x2="48.2" y2="177.4" stroke="#EFCD62"/>
<line x1="32.7" y1="198.4" x2="46.7" y2="165.1" stroke="#EFCD62"/>
<line x1="32.7" y1="241.3" x2="44.7" y2="214.3" stroke="#EFCD62"/>
<line x1="32.7" y1="189.2" x2="41.2" y2="162.2" stroke="#EFCD62"/>
<line x1="32.7" y1="234.1" x2="42.4" y2="209.7" stroke="#EFCD62"/>
<line x1="32.7" y1="237.0" x2="45.5" y2="206.8" stroke="#EFCD62"/>
<line x1="32.7" y1="206.9" x2="56.9" y2="153.0" stroke="#EFCD62"/>
<line x1="32.7" y1="227.9" x2="63.4" y2="162.5" stroke="#EFCD62"/>
<line x1="32.7" y1="211.1" x2="41.4" y2="192.5" stroke="#EFCD62"/>
<line x1="32.7" y1="221.4" x2="43.0" y2="177.9" stroke="#EFCD62"/>
<line x1="32.7" y1="231.3" x2="45.2" y2="199.7" stroke="#EFCD62"/>
<line x1="32.7" y1="237.4" x2="58.3" y2="188.9" stroke="#EFCD62"/>
<line x1="32.7" y1="217.2" x2="55.5" y2="164.0" stroke="#EFCD62"/>
<line x1="32.7" y1="239.8" x2="54.7" y2="188.5" stroke="#EFCD62"/>
<line x1="32.7" y1="239.0" x2="61.1" y2="168.5" stroke="#EFCD62"/>
<line x1="32.7" y1="234.0" x2="52.9" y2="180.8" stroke="#EFCD62"/>
<line x1="32.7" y1="237.7" x2="57.3" y2="163.3" stroke="#EFCD62"/>
<line x1="32.7" y1="232.4" x2="41.0" y2="208.5" stroke="#EFCD62"/>
<line x1="32.7" y1="236.7" x2="57.0" y2="147.2" stroke="#EFCD62"/>
<line x1="32.7" y1="234.5" x2="63.9" y2="180.0" stroke="#EFCD62"/>
<line x1="32.7" y1="231.8" x2="48.0" y2="184.6" stroke="#EFCD62"/>
<line x1="32.7" y1="205.2" x2="40.9" y2="190.8" stroke="#EFCD62"/>
<line x1="32.7" y1="188.1" x2="42.0" y2="164.4" stroke="#EFCD62"/>
<line x1="32.7" y1="217.3" x2="59.9" y2="152.8" stroke="#EFCD62"/>
<line x1="32.7" y1="176.4" x2="39.2" y2="156.9" stroke="#EFCD62"/>
<line x1="32.7" y1="207.2" x2="52.8" y2="168.3" stroke="#EFCD62"/>
<line x1="32.7" y1="201.8" x2="42.1" y2="178.4" stroke="#EFCD62"/>
<line x1="32.7" y1="176.8" x2="50.5" y2="145.8" stroke="#EFCD62"/>
<line x1="32.7" y1="123.8" x2="58.5" y2="26.2" stroke="#EFCD62"/>
<line x1="33.5" y1="145.0" x2="54.7" y2="71.2" stroke="#EFCD62"/>
<line x1="33.0" y1="179.0" x2="52.4" y2="78.5" stroke="#EFCD62"/>
<line x1="33.5" y1="128.0" x2="43.8" y2="89.3" stroke="#EFCD62"/>
<line x1="33.5" y1="170.0" x2="47.6" y2="116.2" stroke="#EFCD62"/>
<line x1="45.5" y1="169.2" x2="77.0" y2="123.1" stroke="#EFCD62"/>
<line x1="41.5" y1="167.6" x2="64.5" y2="145.0" stroke="#EFCD62"/>
<line x1="33.0" y1="160.0" x2="45.0" y2="100.0" stroke="#EFCD62"/>
<line x1="34.0" y1="150.0" x2="50.0" y2="95.0" stroke="#EFCD62"/>
<line x1="33.0" y1="190.0" x2="48.0" y2="125.0" stroke="#EFCD62"/>
</g>
<g>
<rect x="398.3" y="16.4" width="243.5" height="29.2" fill="#fff" stroke="#444" stroke-width="0.9"/>
<line x1="398.3" y1="45.9" x2="641.8" y2="45.9" stroke="#888" stroke-width="1.2"/>
<line x1="402.1" y1="24.8" x2="436.7" y2="24.8" stroke="#1A476F" stroke-opacity="0.72" stroke-width="1.1"/>
<line x1="402.1" y1="37.5" x2="436.7" y2="37.5" stroke="#55752F" stroke-width="0.9"/>
<line x1="526.5" y1="24.8" x2="560.8" y2="24.8" stroke="#90353B" stroke-opacity="0.72" stroke-width="1.1"/>
<line x1="526.5" y1="37.5" x2="560.8" y2="37.5" stroke="#E37E00" stroke-width="0.9"/>
<g font-size="7.4" fill="#111">
<text transform="translate(441.8,28.2) scale(1,1.12)">Quartile 1 (&lt; 0.16)</text>
<text transform="translate(441.8,40.9) scale(1,1.12)">Quartile 3 (0.43 - 1.70)</text>
<text transform="translate(566.4,28.2) scale(1,1.12)">Quartile 2 (0.16 - 0.43)</text>
<text transform="translate(566.4,40.9) scale(1,1.12)">Quartile 4 (&gt; 1.70)</text>
</g>
<text transform="translate(520.1,62.4) scale(1,1.06)" text-anchor="middle" font-size="9.3" fill="#1A476F">ΔN_Tumors</text>
<text transform="translate(680.6,85.6) scale(1,1.06)" text-anchor="end" font-size="10.5" fill="#111"><tspan font-style="italic">p</tspan> = &lt;0.001</text>
<line x1="356" y1="234.20" x2="685" y2="234.20" stroke="#e6eff1" stroke-width="0.8"/>
<line x1="356" y1="193.50" x2="685" y2="193.50" stroke="#e6eff1" stroke-width="0.8"/>
<line x1="356" y1="152.80" x2="685" y2="152.80" stroke="#e6eff1" stroke-width="0.8"/>
<line x1="356" y1="112.10" x2="685" y2="112.10" stroke="#e6eff1" stroke-width="0.8"/>
<line x1="356" y1="71.40" x2="685" y2="71.40" stroke="#e6eff1" stroke-width="0.8"/>
<line x1="355.6" y1="66" x2="355.6" y2="240" stroke="#555" stroke-width="1"/>
<line x1="355.1" y1="239.7" x2="685" y2="239.7" stroke="#777" stroke-width="1.2"/>
<line x1="351.4" y1="234.20" x2="355.6" y2="234.20" stroke="#555" stroke-width="0.9"/>
<text transform="translate(348.4,234.20) rotate(-90) scale(1,1.12)" text-anchor="middle" font-size="7.5" fill="#111">0.00</text>
<line x1="351.4" y1="193.50" x2="355.6" y2="193.50" stroke="#555" stroke-width="0.9"/>
<text transform="translate(348.4,193.50) rotate(-90) scale(1,1.12)" text-anchor="middle" font-size="7.5" fill="#111">0.25</text>
<line x1="351.4" y1="152.80" x2="355.6" y2="152.80" stroke="#555" stroke-width="0.9"/>
<text transform="translate(348.4,152.80) rotate(-90) scale(1,1.12)" text-anchor="middle" font-size="7.5" fill="#111">0.50</text>
<line x1="351.4" y1="112.10" x2="355.6" y2="112.10" stroke="#555" stroke-width="0.9"/>
<text transform="translate(348.4,112.10) rotate(-90) scale(1,1.12)" text-anchor="middle" font-size="7.5" fill="#111">0.75</text>
<line x1="351.4" y1="71.40" x2="355.6" y2="71.40" stroke="#555" stroke-width="0.9"/>
<text transform="translate(348.4,71.40) rotate(-90) scale(1,1.12)" text-anchor="middle" font-size="7.5" fill="#111">1.00</text>
<line x1="361.40" y1="239.7" x2="361.40" y2="243.8" stroke="#555" stroke-width="0.9"/>
<text transform="translate(361.40,251.3) scale(1,1.12)" text-anchor="middle" font-size="7.4" fill="#111">0</text>
<line x1="400.96" y1="239.7" x2="400.96" y2="243.8" stroke="#555" stroke-width="0.9"/>
<text transform="translate(400.96,251.3) scale(1,1.12)" text-anchor="middle" font-size="7.4" fill="#111">20</text>
<line x1="440.52" y1="239.7" x2="440.52" y2="243.8" stroke="#555" stroke-width="0.9"/>
<text transform="translate(440.52,251.3) scale(1,1.12)" text-anchor="middle" font-size="7.4" fill="#111">40</text>
<line x1="480.08" y1="239.7" x2="480.08" y2="243.8" stroke="#555" stroke-width="0.9"/>
<text transform="translate(480.08,251.3) scale(1,1.12)" text-anchor="middle" font-size="7.4" fill="#111">60</text>
<line x1="519.64" y1="239.7" x2="519.64" y2="243.8" stroke="#555" stroke-width="0.9"/>
<text transform="translate(519.64,251.3) scale(1,1.12)" text-anchor="middle" font-size="7.4" fill="#111">80</text>
<line x1="559.20" y1="239.7" x2="559.20" y2="243.8" stroke="#555" stroke-width="0.9"/>
<text transform="translate(559.20,251.3) scale(1,1.12)" text-anchor="middle" font-size="7.4" fill="#111">100</text>
<line x1="598.76" y1="239.7" x2="598.76" y2="243.8" stroke="#555" stroke-width="0.9"/>
<text transform="translate(598.76,251.3) scale(1,1.12)" text-anchor="middle" font-size="7.4" fill="#111">120</text>
<line x1="638.32" y1="239.7" x2="638.32" y2="243.8" stroke="#555" stroke-width="0.9"/>
<text transform="translate(638.32,251.3) scale(1,1.12)" text-anchor="middle" font-size="7.4" fill="#111">140</text>
<line x1="677.88" y1="239.7" x2="677.88" y2="243.8" stroke="#555" stroke-width="0.9"/>
<text transform="translate(677.88,251.3) scale(1,1.12)" text-anchor="middle" font-size="7.4" fill="#111">160</text>
<text transform="translate(520.6,259.6) scale(1,1.12)" text-anchor="middle" font-size="7.4" fill="#111">time (months)</text>
<g fill="none" stroke-width="0.95" stroke-linejoin="miter">
<polyline points="361.7,71.5 368.8,71.3 371.7,71.3 371.7,72.2 378.1,72.2 378.6,74.8 382.7,74.8 382.7,76.2 385.6,76.2 388.4,76.2 388.4,78.8 389.9,78.8 389.9,81.2 391.3,81.2 391.3,83.5 395.4,83.5 395.4,86.9 396.5,86.9 396.5,90.0 398.1,90.0 398.1,92.7 399.6,92.7 399.6,95.4 404.2,95.5 406.5,95.5 406.5,97.7 408.5,97.7 408.5,100.0 411.5,100.0 413.5,100.0 413.5,102.3 414.6,102.3 414.6,105.4 415.0,105.4 415.0,107.9 415.4,107.9 415.4,110.4 418.1,110.4 418.1,112.7 421.2,112.7 421.2,114.2 422.1,114.2 422.1,116.2 423.1,116.2 423.1,118.1 425.8,118.1 425.8,118.8 428.5,118.8 428.5,121.5 444.6,121.8 445.4,121.8 445.4,124.3 446.2,124.3 446.2,126.9 452.3,127.2 453.1,127.2 453.1,129.7 456.9,129.7 456.9,130.3 458.5,130.3 458.5,131.5 461.5,131.8 463.8,131.8 463.8,134.6 464.6,134.6 464.6,136.2 475.4,136.2 475.8,136.2 475.8,138.1 476.2,138.1 476.2,140.0 477.2,140.0 477.2,142.3 481.5,142.3 481.8,146.2 496.9,146.2 497.3,146.2 497.3,148.2 497.7,148.2 497.7,150.3 503.8,150.3 504.3,155.4 510.0,155.4 510.5,160.5 521.5,160.4 521.7,160.4 521.7,162.6 522.0,162.6 522.0,164.7 522.2,164.7 522.2,166.9 564.7,166.9 564.7,184.2 645.3,184.2" stroke="#1A476F"/>
<polyline points="361.4,71.5 366.0,71.3 369.4,71.3 369.4,71.9 371.1,71.9 371.1,74.2 373.1,74.2 373.1,76.0 375.2,76.0 375.2,77.7 376.2,77.7 376.2,79.6 377.1,79.6 377.1,81.6 378.1,81.6 378.1,83.5 379.8,83.5 379.8,85.8 381.5,85.8 381.5,88.1 382.9,88.1 382.9,90.9 384.4,90.9 384.4,93.8 385.0,93.8 385.0,95.5 385.6,95.5 385.6,97.3 387.3,97.3 387.3,97.9 387.9,97.9 387.9,100.0 388.4,100.0 388.4,102.1 389.0,102.1 389.0,104.2 389.4,104.2 389.4,106.2 389.9,106.2 389.9,108.2 390.4,108.2 390.4,110.3 390.8,110.3 390.8,112.3 392.8,112.3 392.8,114.6 394.8,114.6 394.8,116.9 399.2,117.3 400.0,117.3 400.0,118.8 403.1,119.2 403.6,119.2 403.6,121.2 404.2,121.2 404.2,123.1 406.5,123.1 406.5,125.4 407.1,125.4 407.1,127.3 407.7,127.3 407.7,129.2 409.2,129.2 409.2,131.0 413.2,131.5 414.4,131.5 414.4,133.8 415.6,133.8 415.6,136.1 416.8,136.1 416.8,137.8 417.9,137.8 417.9,139.6 425.4,139.5 426.9,139.5 426.9,142.3 429.2,142.3 429.2,144.6 431.5,144.6 431.5,145.7 432.3,145.7 432.3,147.4 433.1,147.4 433.1,149.2 437.7,149.2 437.7,150.0 438.2,150.0 438.2,152.2 438.7,152.2 438.7,154.3 439.2,154.3 439.2,156.5 454.6,156.5 455.7,156.5 455.7,159.2 466.2,159.2 466.6,161.8 474.5,161.8 475.0,165.3 487.2,165.3 487.6,169.6 490.7,170.2 491.1,174.9 494.6,175.4 495.0,180.7 505.1,180.7 505.5,186.6 566.1,186.1 566.6,202.4 657.9,202.4" stroke="#90353B"/>
<polyline points="361.4,71.5 363.1,71.3 366.0,71.3 366.0,71.9 367.1,71.9 367.1,73.7 368.3,73.7 368.3,76.0 370.6,76.0 370.6,79.4 371.2,79.4 371.2,81.7 371.7,81.7 371.7,84.0 372.3,84.0 372.3,86.3 373.8,86.3 373.8,88.0 375.2,88.0 375.2,89.8 376.0,89.8 376.0,91.7 376.7,91.7 376.7,93.7 377.5,93.7 377.5,95.6 377.9,95.6 377.9,98.1 378.2,98.1 378.2,100.6 378.6,100.6 378.6,103.1 379.4,103.1 379.4,105.4 380.2,105.4 380.2,107.7 381.0,107.7 381.0,110.0 382.1,110.0 382.1,112.8 383.3,112.8 383.3,115.7 383.6,115.7 383.6,117.8 383.9,117.8 383.9,119.8 384.1,119.8 384.1,121.9 384.4,121.9 384.4,124.0 386.4,124.0 386.4,126.3 388.4,126.3 388.4,128.7 389.0,128.7 389.0,131.2 389.6,131.2 389.6,133.8 391.9,133.8 391.9,135.0 392.2,135.0 392.2,137.2 392.5,137.2 392.5,139.3 392.8,139.3 392.8,141.4 393.1,141.4 393.1,143.6 395.4,143.6 395.4,144.8 399.4,144.8 399.4,146.5 400.5,146.5 400.5,148.2 401.7,148.2 401.7,150.0 402.3,150.0 402.3,151.9 402.8,151.9 402.8,153.9 403.4,153.9 403.4,155.8 404.5,155.8 404.5,158.7 405.7,158.7 405.7,161.5 406.1,161.5 406.1,163.6 406.6,163.6 406.6,165.8 407.0,165.8 407.0,167.9 408.8,167.9 408.8,170.1 410.5,170.1 410.5,172.3 414.0,172.3 414.0,173.1 416.6,173.1 416.6,175.8 420.1,175.8 420.1,177.5 422.8,177.5 422.8,180.1 427.2,180.1 427.2,181.9 429.8,181.9 429.8,184.5 430.2,184.5 430.2,186.2 430.7,186.2 430.7,188.0 435.9,188.0 435.9,188.9 436.8,188.9 436.8,191.5 442.0,191.9 443.4,191.9 443.4,195.0 461.3,195.0 461.8,195.0 461.8,197.8 462.2,197.8 462.2,200.6 480.2,200.6 480.6,207.3 588.3,207.3" stroke="#55752F"/>
<polyline points="361.3,71.3 362.5,71.3 362.5,73.3 363.7,73.3 363.7,75.4 366.0,76.0 366.6,76.0 366.6,78.3 367.1,78.3 367.1,80.6 367.7,80.6 367.7,82.9 368.1,82.9 368.1,85.1 368.5,85.1 368.5,87.2 369.0,87.2 369.0,89.3 369.4,89.3 369.4,91.5 370.1,91.5 370.1,93.8 370.9,93.8 370.9,96.2 371.6,96.2 371.6,98.5 372.3,98.5 372.3,100.8 373.1,100.8 373.1,103.7 374.0,103.7 374.0,106.5 374.4,106.5 374.4,108.8 374.9,108.8 374.9,111.1 375.4,111.1 375.4,113.4 375.8,113.4 375.8,115.7 376.1,115.7 376.1,118.2 376.4,118.2 376.4,120.8 376.6,120.8 376.6,123.3 376.9,123.3 376.9,125.8 377.9,125.8 377.9,128.5 378.8,128.5 378.8,131.1 379.8,131.1 379.8,133.8 380.8,133.8 380.8,135.7 381.7,135.7 381.7,137.7 382.7,137.7 382.7,139.6 383.4,139.6 383.4,141.9 384.1,141.9 384.1,144.2 384.9,144.2 384.9,146.5 385.6,146.5 385.6,148.8 385.9,148.8 385.9,151.1 386.1,151.1 386.1,153.4 386.4,153.4 386.4,155.8 386.7,155.8 386.7,158.1 387.3,158.1 387.3,160.2 387.8,160.2 387.8,162.3 388.4,162.3 388.4,164.4 391.9,164.4 392.8,164.4 392.8,167.0 393.6,167.0 393.6,169.6 394.8,169.6 394.8,171.3 395.9,171.3 395.9,173.1 398.8,173.1 398.8,175.9 400.0,176.1 402.6,176.6 405.3,176.6 405.3,179.3 407.0,179.3 407.0,181.0 407.4,181.0 407.4,182.8 407.9,182.8 407.9,184.5 408.8,184.5 408.8,186.2 409.6,186.2 409.6,188.0 412.3,188.0 412.3,190.7 415.8,190.7 415.8,191.5 416.6,191.5 416.6,194.2 442.0,194.2 442.7,194.2 442.7,196.8 443.4,196.8 443.4,199.4 457.8,199.4 458.3,206.4 463.1,206.4 463.4,213.3 530.4,213.3 530.4,223.6 541.5,223.6 541.5,234.2" stroke="#E37E00"/>
</g></g>
<g>
<text x="124.3" y="296.3" font-size="11.8" font-weight="bold" style="font-family:'Liberation Sans',sans-serif" fill="#000">C</text>
<line x1="140.4" y1="297.8" x2="528.3" y2="297.8" stroke="#d4d4d4" stroke-width="1.6"/>
<text transform="translate(471.2,294.3) scale(1,1.12)" text-anchor="middle" font-size="5.95" fill="#111">HR (95% CI)</text>
<text transform="translate(514.5,294.3) scale(1,1.12)" text-anchor="middle" font-size="5.95" fill="#111">P value</text>
<line x1="343.7" y1="298.5" x2="343.7" y2="499.6" stroke="#555" stroke-width="0.9"/>
<line x1="140.2" y1="496.0" x2="528.3" y2="496.0" stroke="#a8a8a8" stroke-width="1.7"/>
<line x1="258.00" y1="495" x2="258.00" y2="499.6" stroke="#555" stroke-width="0.9"/>
<text transform="translate(258.00,506.8) scale(1,1.12)" text-anchor="middle" font-size="5.6" fill="#111">.25</text>
<line x1="343.60" y1="495" x2="343.60" y2="499.6" stroke="#555" stroke-width="0.9"/>
<text transform="translate(343.60,506.8) scale(1,1.12)" text-anchor="middle" font-size="5.6" fill="#111">1</text>
<line x1="429.20" y1="495" x2="429.20" y2="499.6" stroke="#555" stroke-width="0.9"/>
<text transform="translate(429.20,506.8) scale(1,1.12)" text-anchor="middle" font-size="5.6" fill="#111">4</text>
<text transform="translate(142.6,308.60) scale(1,1.12)" font-size="6.95" fill="#111">ΔN_tumors per month (log<tspan dy='1.6' font-size='4.6'>2</tspan><tspan dy='-1.6'>)</tspan></text>
<text transform="translate(470.3,308.70) scale(1,1.12)" text-anchor="middle" font-size="5.95" fill="#111">1.27 (1.18, 1.38)</text>
<text transform="translate(514.5,308.70) scale(1,1.12)" text-anchor="middle" font-size="5.95" fill="#111">&lt; 0.001</text>
<line x1="353.82" y1="305.90" x2="363.49" y2="305.90" stroke="#111" stroke-width="0.95"/>
<circle cx="358.36" cy="305.90" r="1.65" fill="#111"/>
<text transform="translate(142.6,319.15) scale(1,1.12)" font-size="6.95" fill="#111">N_tumors, initial</text>
<text transform="translate(470.3,319.25) scale(1,1.12)" text-anchor="middle" font-size="5.95" fill="#111">1.01 (0.98, 1.04)</text>
<text transform="translate(514.5,319.25) scale(1,1.12)" text-anchor="middle" font-size="5.95" fill="#111">0.44</text>
<line x1="342.35" y1="316.45" x2="346.02" y2="316.45" stroke="#111" stroke-width="0.95"/>
<circle cx="344.21" cy="316.45" r="1.65" fill="#111"/>
<text transform="translate(142.6,329.70) scale(1,1.12)" font-size="6.95" fill="#111">Total tumor volume, initial</text>
<text transform="translate(470.3,329.80) scale(1,1.12)" text-anchor="middle" font-size="5.95" fill="#111">1.01 (0.98, 1.04)</text>
<text transform="translate(514.5,329.80) scale(1,1.12)" text-anchor="middle" font-size="5.95" fill="#111">0.47</text>
<line x1="342.35" y1="327.00" x2="346.02" y2="327.00" stroke="#111" stroke-width="0.95"/>
<circle cx="344.21" cy="327.00" r="1.65" fill="#111"/>
<text transform="translate(142.6,340.25) scale(1,1.12)" font-size="6.95" fill="#111">ΔVolume per tumor per month (log<tspan dy='1.6' font-size='4.6'>2</tspan><tspan dy='-1.6'>)</tspan></text>
<text transform="translate(470.3,340.35) scale(1,1.12)" text-anchor="middle" font-size="5.95" fill="#111">1.06 (0.99, 1.13)</text>
<text transform="translate(514.5,340.35) scale(1,1.12)" text-anchor="middle" font-size="5.95" fill="#111">0.11</text>
<line x1="342.98" y1="337.55" x2="351.15" y2="337.55" stroke="#111" stroke-width="0.95"/>
<circle cx="347.20" cy="337.55" r="1.65" fill="#111"/>
<text transform="translate(142.6,350.80) scale(1,1.12)" font-size="6.95" fill="#111">Diagnosis Age</text>
<text transform="translate(470.3,350.90) scale(1,1.12)" text-anchor="middle" font-size="5.95" fill="#111">1.01 (1.00, 1.02)</text>
<text transform="translate(514.5,350.90) scale(1,1.12)" text-anchor="middle" font-size="5.95" fill="#111">0.09</text>
<line x1="343.60" y1="348.10" x2="344.82" y2="348.10" stroke="#111" stroke-width="0.95"/>
<circle cx="344.21" cy="348.10" r="1.65" fill="#111"/>
<text transform="translate(142.6,361.35) scale(1,1.12)" font-size="6.95" fill="#111">KPS, initial</text>
<text transform="translate(470.3,361.45) scale(1,1.12)" text-anchor="middle" font-size="5.95" fill="#111">1.00 (0.98, 1.01)</text>
<text transform="translate(514.5,361.45) scale(1,1.12)" text-anchor="middle" font-size="5.95" fill="#111">0.70</text>
<line x1="342.35" y1="358.65" x2="344.21" y2="358.65" stroke="#111" stroke-width="0.95"/>
<circle cx="343.60" cy="358.65" r="1.65" fill="#111"/>
<text transform="translate(142.6,382.45) scale(1,1.12)" font-size="6.95" fill="#111"><tspan font-weight='bold'>Primary Histology</tspan></text>
<text transform="translate(142.6,393.00) scale(1,1.12)" font-size="6.95" fill="#111">Lung cancer</text>
<text transform="translate(470.3,393.10) scale(1,1.12)" text-anchor="middle" font-size="5.95" fill="#111">1.00 (Reference)</text>
<line x1="343.60" y1="390.30" x2="343.60" y2="390.30" stroke="#111" stroke-width="0.95"/>
<circle cx="343.60" cy="390.30" r="1.65" fill="#111"/>
<text transform="translate(142.6,403.55) scale(1,1.12)" font-size="6.95" fill="#111">Melanoma</text>
<text transform="translate(470.3,403.65) scale(1,1.12)" text-anchor="middle" font-size="5.95" fill="#111">1.09 (0.75, 1.58)</text>
<text transform="translate(514.5,403.65) scale(1,1.12)" text-anchor="middle" font-size="5.95" fill="#111">0.64</text>
<line x1="325.84" y1="400.85" x2="371.84" y2="400.85" stroke="#111" stroke-width="0.95"/>
<circle cx="348.92" cy="400.85" r="1.65" fill="#111"/>
<text transform="translate(142.6,414.10) scale(1,1.12)" font-size="6.95" fill="#111">Breast cancer</text>
<text transform="translate(470.3,414.20) scale(1,1.12)" text-anchor="middle" font-size="5.95" fill="#111">0.58 (0.37, 0.92)</text>
<text transform="translate(514.5,414.20) scale(1,1.12)" text-anchor="middle" font-size="5.95" fill="#111">0.02</text>
<line x1="282.21" y1="411.40" x2="338.45" y2="411.40" stroke="#111" stroke-width="0.95"/>
<circle cx="309.96" cy="411.40" r="1.65" fill="#111"/>
<text transform="translate(142.6,424.65) scale(1,1.12)" font-size="6.95" fill="#111">Synovial sarcoma</text>
<text transform="translate(470.3,424.75) scale(1,1.12)" text-anchor="middle" font-size="5.95" fill="#111">1.73 (0.75, 4.02)</text>
<text transform="translate(514.5,424.75) scale(1,1.12)" text-anchor="middle" font-size="5.95" fill="#111">0.20</text>
<line x1="325.84" y1="421.95" x2="429.51" y2="421.95" stroke="#111" stroke-width="0.95"/>
<circle cx="377.45" cy="421.95" r="1.65" fill="#111"/>
<text transform="translate(142.6,435.20) scale(1,1.12)" font-size="6.95" fill="#111">Gastrointestinal cancer</text>
<text transform="translate(470.3,435.30) scale(1,1.12)" text-anchor="middle" font-size="5.95" fill="#111">2.61 (1.29, 5.30)</text>
<text transform="translate(514.5,435.30) scale(1,1.12)" text-anchor="middle" font-size="5.95" fill="#111">0.01</text>
<line x1="359.32" y1="432.50" x2="436.10" y2="432.50" stroke="#111" stroke-width="0.95"/>
<circle cx="402.84" cy="432.50" r="1.65" fill="#111"/>
<text transform="translate(142.6,445.75) scale(1,1.12)" font-size="6.95" fill="#111">Renal cell carcinoma</text>
<text transform="translate(470.3,445.85) scale(1,1.12)" text-anchor="middle" font-size="5.95" fill="#111">1.63 (0.75, 3.56)</text>
<text transform="translate(514.5,445.85) scale(1,1.12)" text-anchor="middle" font-size="5.95" fill="#111">0.22</text>
<line x1="325.84" y1="443.05" x2="422.00" y2="443.05" stroke="#111" stroke-width="0.95"/>
<circle cx="373.77" cy="443.05" r="1.65" fill="#111"/>
<text transform="translate(142.6,456.30) scale(1,1.12)" font-size="6.95" fill="#111">Uterine cancer</text>
<text transform="translate(470.3,456.40) scale(1,1.12)" text-anchor="middle" font-size="5.95" fill="#111">1.90 (0.26, 13.90)</text>
<text transform="translate(514.5,456.40) scale(1,1.12)" text-anchor="middle" font-size="5.95" fill="#111">0.53</text>
<line x1="260.42" y1="453.60" x2="436.40" y2="453.60" stroke="#111" stroke-width="0.95"/>
<polygon points="442.40,453.60 436.00,451.00 436.00,456.20" fill="#111"/>
<circle cx="383.23" cy="453.60" r="1.65" fill="#111"/>
<text transform="translate(142.6,466.85) scale(1,1.12)" font-size="6.95" fill="#111">Ovarian cancer</text>
<text transform="translate(470.3,466.95) scale(1,1.12)" text-anchor="middle" font-size="5.95" fill="#111">1.09 (0.40, 2.99)</text>
<text transform="translate(514.5,466.95) scale(1,1.12)" text-anchor="middle" font-size="5.95" fill="#111">0.86</text>
<line x1="287.02" y1="464.15" x2="411.23" y2="464.15" stroke="#111" stroke-width="0.95"/>
<circle cx="348.92" cy="464.15" r="1.65" fill="#111"/>
<text transform="translate(142.6,477.40) scale(1,1.12)" font-size="6.95" fill="#111">Pancreatic cancer</text>
<text transform="translate(470.3,477.50) scale(1,1.12)" text-anchor="middle" font-size="5.95" fill="#111">3.86 (0.93, 16.02)</text>
<text transform="translate(514.5,477.50) scale(1,1.12)" text-anchor="middle" font-size="5.95" fill="#111">0.06</text>
<line x1="339.12" y1="474.70" x2="436.40" y2="474.70" stroke="#111" stroke-width="0.95"/>
<polygon points="442.40,474.70 436.00,472.10 436.00,477.30" fill="#111"/>
<circle cx="427.00" cy="474.70" r="1.65" fill="#111"/>
<text transform="translate(142.6,487.95) scale(1,1.12)" font-size="6.95" fill="#111">Prostate cancer</text>
<text transform="translate(470.3,488.05) scale(1,1.12)" text-anchor="middle" font-size="5.95" fill="#111">1.03 (0.14, 7.50)</text>
<text transform="translate(514.5,488.05) scale(1,1.12)" text-anchor="middle" font-size="5.95" fill="#111">0.98</text>
<line x1="257.90" y1="485.25" x2="436.40" y2="485.25" stroke="#111" stroke-width="0.95"/>
<polygon points="442.40,485.25 436.00,482.65 436.00,487.85" fill="#111"/>
<polygon points="251.90,485.25 258.30,482.65 258.30,487.85" fill="#111"/>
<circle cx="345.43" cy="485.25" r="1.65" fill="#111"/>
</g>
</svg></body></html>
